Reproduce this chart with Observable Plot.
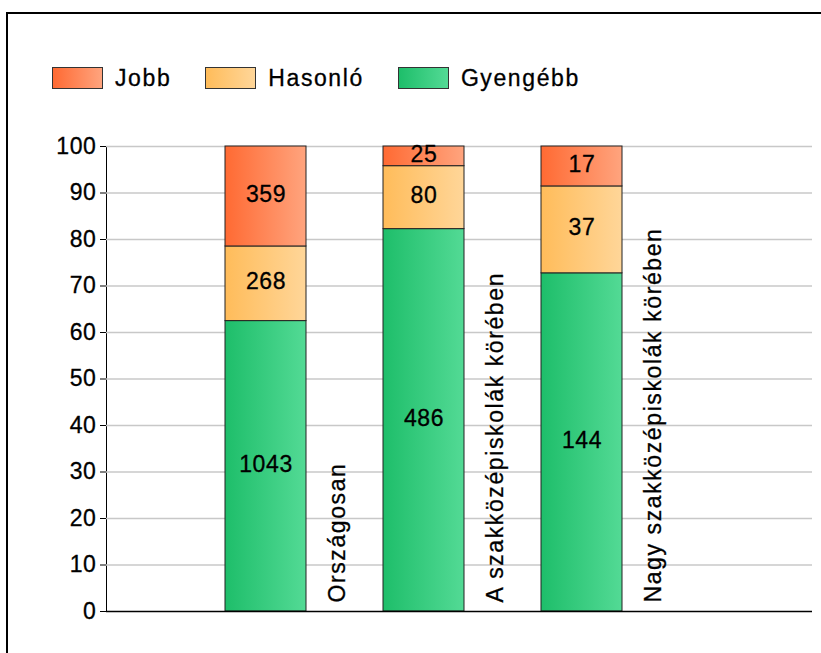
<!DOCTYPE html>
<html>
<head>
<meta charset="utf-8">
<script src="https://cdn.jsdelivr.net/npm/d3@7"></script>
<script src="https://cdn.jsdelivr.net/npm/@observablehq/plot@0.6"></script>
<style>
  html, body { margin: 0; padding: 0; background: #fff; overflow: hidden; width: 821px; height: 653px; }
  body { font-family: "Liberation Sans", Arial, sans-serif; position: relative; }
  #border { position: absolute; left: 6px; top: 12px; width: 840px; height: 680px; border: 2px solid #000; box-sizing: border-box; }
  #legend { position: absolute; left: 52px; top: 67px; display: flex; align-items: center; height: 22px; font-size: 23px; letter-spacing: 1.6px; color: #000; -webkit-text-stroke: 0.3px #000; }
  .item { display: flex; align-items: center; margin-right: 34px; }
  .sw { width: 49px; height: 20px; border: 1px solid #333; margin-right: 12px; }
  #chart { position: absolute; left: 0; top: 120px; }
</style>
</head>
<body>
<div id="border"></div>
<div id="legend"></div>
<div id="chart"></div>
<script>
const categories = ["Országosan", "A szakközépiskolák körében", "Nagy szakközépiskolák körében"];
const series = ["Gyengébb", "Hasonló", "Jobb"];
const gyengebb = [1043, 486, 144];
const hasonlo = [268, 80, 37];
const jobb = [359, 25, 17];
const yTicks = [0, 10, 20, 30, 40, 50, 60, 70, 80, 90, 100];
const legendOrder = ["Jobb", "Hasonló", "Gyengébb"];
const gradStops = {
  "Jobb": ["#ff6a33", "#ffa47e"],
  "Hasonló": ["#ffbc5a", "#ffd699"],
  "Gyengébb": ["#1ebe6a", "#53da95"]
};
const gradIds = {"Jobb": "gJobb", "Hasonló": "gHas", "Gyengébb": "gGy"};

const values = {"Gyengébb": gyengebb, "Hasonló": hasonlo, "Jobb": jobb};
const rows = [];
categories.forEach((c, i) => {
  const total = gyengebb[i] + hasonlo[i] + jobb[i];
  series.forEach(s => rows.push({category: c, series: s, count: values[s][i], pct: values[s][i] / total * 100}));
});

// legend
const legend = document.getElementById("legend");
legendOrder.forEach(s => {
  const it = document.createElement("div");
  it.className = "item";
  const sw = document.createElement("div");
  sw.className = "sw";
  sw.style.background = `linear-gradient(to right, ${gradStops[s][0]}, ${gradStops[s][1]})`;
  const t = document.createElement("span");
  t.textContent = s;
  it.appendChild(sw); it.appendChild(t);
  legend.appendChild(it);
});

const chart = Plot.plot({
  width: 821,
  height: 533,
  marginLeft: 106,
  marginRight: 9,
  marginTop: 26,
  marginBottom: 42,
  style: {fontFamily: '"Liberation Sans", Arial, sans-serif', fontSize: "23px", color: "#000", background: "transparent"},
  x: {domain: categories, range: [224, 622], paddingInner: 0.489, paddingOuter: 0, axis: null},
  y: {domain: [0, 100], ticks: yTicks, tickSize: 6, tickPadding: 4, label: null, line: true},
  color: {type: "ordinal", domain: series, range: series.map(s => `url(#${gradIds[s]})`)},
  marks: [
    Plot.ruleY(yTicks.filter(d => d > 0), {stroke: "#c8c8c8", strokeWidth: 1.5}),
    Plot.barY(rows, Plot.stackY({x: "category", y: "pct", fill: "series", stroke: "#222", strokeWidth: 1, inset: 0})),
    Plot.text(rows, Plot.stackY({x: "category", y: "pct", text: d => String(d.count), fill: "#000", fontSize: 23, dy: -2})),
    Plot.text(categories, {x: d => d, y: () => 0, text: d => d, rotate: -90, textAnchor: "start", dx: 72, dy: -9, fontSize: 23, fill: "#000"}),
    Plot.ruleY([0], {stroke: "#000", strokeWidth: 1.5})
  ]
});

const svg = d3.select(chart.tagName === "svg" ? chart : chart.querySelector("svg"));
const defs = svg.insert("defs", ":first-child");
series.forEach(s => {
  const g = defs.append("linearGradient").attr("id", gradIds[s]).attr("x1", 0).attr("x2", 1).attr("y1", 0).attr("y2", 0);
  g.append("stop").attr("offset", 0).attr("stop-color", gradStops[s][0]);
  g.append("stop").attr("offset", 1).attr("stop-color", gradStops[s][1]);
});
svg.selectAll("text").style("letter-spacing", "0.6px").style("stroke", "#000").style("stroke-width", "0.3px");
svg.selectAll("text").filter(function() { const t = this.getAttribute("transform") || ""; return t.includes("rotate"); }).style("letter-spacing", "1.6px");
document.getElementById("chart").appendChild(chart);
</script>
</body>
</html>
